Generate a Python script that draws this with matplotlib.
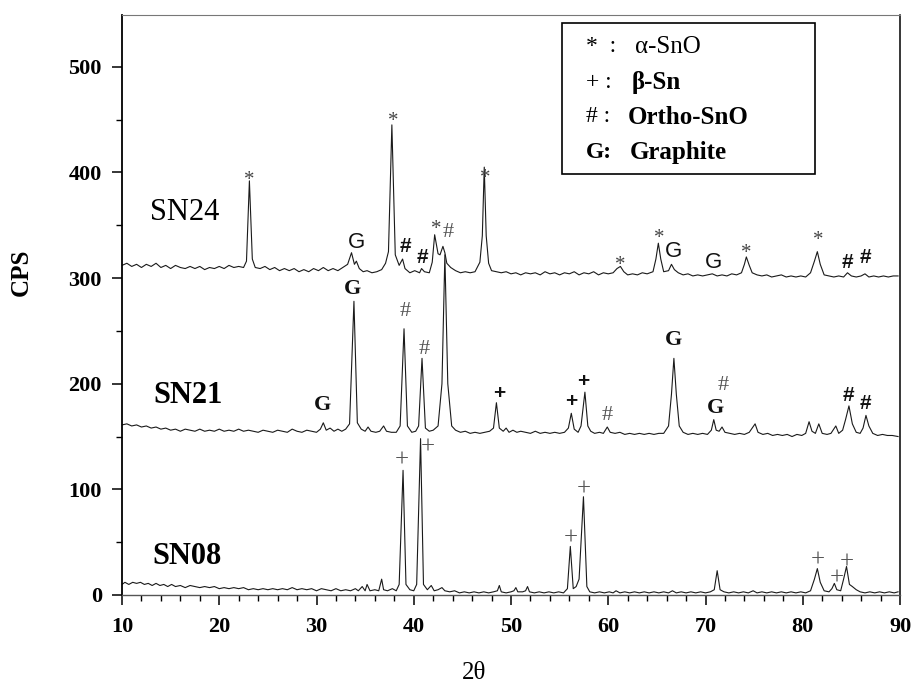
import matplotlib
matplotlib.use("Agg")
import matplotlib.pyplot as plt
from matplotlib.patches import Rectangle
from matplotlib.ticker import MultipleLocator

# ---------------- data ----------------
sn24_x = [10.0, 10.5, 11.0, 11.5, 12.0, 12.5, 13.0, 13.5, 14.0, 14.5, 15.0, 15.5, 16.0, 16.5, 17.0, 17.5,
          18.0, 18.5, 19.0, 19.5, 20.0, 20.5, 21.0, 21.5, 22.0, 22.5, 22.8, 23.1, 23.4, 23.7, 24.2, 24.7,
          25.2, 25.7, 26.2, 26.7, 27.2, 27.7, 28.2, 28.7, 29.2, 29.7, 30.2, 30.7, 31.2, 31.7, 32.2, 32.7,
          33.2, 33.6, 33.9, 34.1, 34.4, 34.8, 35.2, 35.7, 36.2, 36.7, 37.1, 37.4, 37.75, 38.1, 38.5, 38.85,
          39.1, 39.6, 40.1, 40.6, 40.8, 41.1, 41.6, 41.9, 42.15, 42.5, 42.7, 43.0, 43.2, 43.4, 43.8, 44.3,
          44.8, 45.3, 45.8, 46.3, 46.8, 47.05, 47.25, 47.45, 47.7, 48.0, 48.5, 49.0, 49.5, 50.0, 50.5, 51.0,
          51.5, 52.0, 52.5, 53.0, 53.5, 54.0, 54.5, 55.0, 55.5, 56.0, 56.5, 57.0, 57.5, 58.0, 58.5, 59.0,
          59.5, 60.0, 60.5, 60.9, 61.25, 61.6, 62.0, 62.5, 63.0, 63.5, 64.0, 64.6, 64.9, 65.15, 65.4, 65.7,
          66.2, 66.5, 66.8, 67.2, 67.7, 68.2, 68.7, 69.2, 69.7, 70.2, 70.7, 71.2, 71.7, 72.2, 72.7, 73.2,
          73.7, 74.0, 74.2, 74.5, 74.8, 75.3, 75.8, 76.3, 76.8, 77.3, 77.8, 78.3, 78.8, 79.3, 79.8, 80.3,
          80.8, 81.2, 81.5, 81.8, 82.2, 82.7, 83.2, 83.7, 84.2, 84.6, 85.0, 85.5, 86.0, 86.4, 86.8, 87.3,
          87.8, 88.3, 88.8, 89.3, 89.8]
sn24_y = [312, 314, 311, 313, 310, 313, 311, 314, 310, 312, 309, 312, 310, 309, 311, 309,
          311, 308, 310, 309, 311, 309, 312, 310, 311, 310, 316, 392, 318, 310, 309, 311,
          308, 310, 307, 309, 307, 309, 306, 308, 306, 309, 307, 310, 307, 309, 307, 310,
          313, 324, 313, 316, 309, 306, 307, 305, 306, 308, 314, 325, 445, 322, 312, 318,
          309, 305, 307, 305, 309, 306, 305, 315, 341, 323, 322, 330, 324, 314, 310, 307,
          305, 306, 305, 306, 315, 340, 405, 340, 314, 307, 306, 305, 306, 304, 305, 303,
          305, 304, 305, 303, 306, 304, 305, 303, 305, 304, 306, 303, 305, 304, 306, 303,
          305, 304, 305, 309, 311, 306, 303, 304, 303, 305, 304, 306, 318, 333, 318, 306,
          307, 313, 308, 305, 303, 304, 302, 303, 302, 303, 304, 302, 303, 302, 304, 303,
          305, 313, 320, 312, 305, 303, 302, 303, 301, 302, 303, 301, 302, 301, 302, 301,
          305, 316, 325, 313, 303, 302, 301, 302, 301, 305, 302, 301, 302, 304, 301, 302,
          301, 302, 301, 302, 302]

sn21_x = [10.0, 10.5, 11.0, 11.5, 12.0, 12.5, 13.0, 13.5, 14.0, 14.5, 15.0, 15.5, 16.0, 16.5, 17.0, 17.5,
          18.0, 18.5, 19.0, 19.5, 20.0, 20.5, 21.0, 21.5, 22.0, 22.5, 23.0, 23.5, 24.0, 24.5, 25.0, 25.5,
          26.0, 26.5, 27.0, 27.5, 28.0, 28.5, 29.0, 29.5, 30.0, 30.4, 30.7, 31.0, 31.4, 31.8, 32.2, 32.6,
          33.0, 33.4, 33.85, 34.2, 34.6, 35.0, 35.3, 35.6, 36.1, 36.5, 36.9, 37.2, 37.7, 38.2, 38.6, 39.0,
          39.35, 39.8, 40.2, 40.5, 40.85, 41.2, 41.6, 42.0, 42.5, 42.9, 43.2, 43.5, 43.9, 44.3, 44.8, 45.3,
          45.8, 46.3, 46.8, 47.3, 47.8, 48.2, 48.5, 48.8, 49.2, 49.5, 49.8, 50.2, 50.6, 51.0, 51.5, 52.0,
          52.5, 53.0, 53.5, 54.0, 54.5, 55.0, 55.5, 55.9, 56.2, 56.5, 56.9, 57.2, 57.6, 57.9, 58.2, 58.6,
          59.1, 59.5, 59.9, 60.2, 60.7, 61.2, 61.7, 62.2, 62.7, 63.2, 63.7, 64.2, 64.7, 65.2, 65.7, 66.2,
          66.5, 66.75, 67.0, 67.3, 67.7, 68.2, 68.7, 69.2, 69.7, 70.2, 70.6, 70.85, 71.1, 71.4, 71.7, 72.0,
          72.5, 73.0, 73.5, 74.0, 74.5, 74.8, 75.1, 75.4, 75.9, 76.4, 76.9, 77.4, 77.9, 78.4, 78.9, 79.4,
          79.9, 80.3, 80.65, 80.95, 81.3, 81.65, 82.0, 82.5, 82.9, 83.4, 83.7, 84.1, 84.4, 84.75, 85.1, 85.5,
          85.9, 86.2, 86.5, 86.8, 87.2, 87.7, 88.2, 88.7, 89.2, 89.8]
sn21_y = [161, 162, 160, 161, 159, 160, 158, 159, 157, 158, 156, 157, 155, 157, 156, 155,
          157, 155, 156, 155, 157, 155, 156, 155, 157, 155, 156, 155, 154, 156, 155, 154,
          156, 155, 154, 157, 155, 154, 156, 155, 154, 157, 163, 156, 158, 155, 157, 155,
          157, 162, 278, 163, 157, 155, 159, 155, 154, 155, 160, 155, 154, 154, 160, 252,
          160, 154, 155, 160, 224, 158, 155, 156, 160, 200, 322, 200, 160, 156, 154, 155,
          153, 154, 153, 154, 155, 158, 182, 158, 155, 158, 154, 156, 154, 155, 154, 153,
          155, 153, 154, 153, 154, 153, 154, 158, 172, 157, 154, 160, 192, 160, 155, 153,
          154, 153, 159, 154, 153, 154, 152, 153, 152, 153, 152, 153, 152, 153, 153, 160,
          190, 224, 190, 160, 154, 152, 153, 152, 153, 152, 156, 166, 156, 155, 159, 154,
          153, 152, 153, 152, 154, 158, 162, 154, 152, 153, 151, 152, 151, 152, 150, 152,
          151, 153, 164, 155, 153, 162, 153, 152, 153, 160, 153, 156, 166, 179, 162, 154,
          153, 158, 170, 160, 153, 151, 152, 151, 151, 150]

sn08_x = [10.0, 10.3, 10.7, 11.1, 11.5, 11.9, 12.3, 12.7, 13.1, 13.5, 13.9, 14.3, 14.7, 15.1, 15.5, 16.0,
          16.5, 17.0, 17.5, 18.0, 18.5, 19.0, 19.5, 20.0, 20.5, 21.0, 21.5, 22.0, 22.5, 23.0, 23.5, 24.0,
          24.5, 25.0, 25.5, 26.0, 26.5, 27.0, 27.5, 28.0, 28.5, 29.0, 29.5, 30.0, 30.5, 31.0, 31.5, 32.0,
          32.5, 33.0, 33.5, 34.0, 34.3, 34.7, 35.0, 35.2, 35.5, 36.0, 36.4, 36.7, 36.9, 37.3, 37.8, 38.2,
          38.5, 38.9, 39.2, 39.6, 40.0, 40.3, 40.7, 41.0, 41.4, 41.8, 42.1, 42.5, 42.9, 43.2, 43.7, 44.2,
          44.7, 45.2, 45.7, 46.2, 46.7, 47.2, 47.7, 48.2, 48.6, 48.8, 49.0, 49.5, 50.0, 50.3, 50.5, 50.7,
          51.2, 51.5, 51.7, 51.9, 52.4, 52.9, 53.4, 53.9, 54.4, 54.9, 55.4, 55.8, 56.1, 56.4, 56.7, 57.0,
          57.45, 57.8, 58.1, 58.6, 59.1, 59.6, 60.1, 60.5, 60.8, 61.2, 61.7, 62.2, 62.7, 63.2, 63.7, 64.2,
          64.7, 65.2, 65.7, 66.2, 66.6, 67.0, 67.5, 68.0, 68.5, 69.0, 69.5, 70.0, 70.5, 70.9, 71.2, 71.5,
          71.9, 72.4, 72.9, 73.4, 73.9, 74.4, 74.9, 75.3, 75.8, 76.3, 76.8, 77.3, 77.8, 78.3, 78.8, 79.3,
          79.8, 80.3, 80.8, 81.2, 81.5, 81.8, 82.2, 82.7, 83.0, 83.25, 83.5, 83.9, 84.2, 84.5, 84.8, 85.1,
          85.5, 85.9, 86.4, 86.9, 87.4, 87.9, 88.4, 88.9, 89.4, 89.8]
sn08_y = [10, 12, 10, 12, 11, 12, 10, 11, 9, 11, 9, 10, 8, 10, 8, 9,
          7, 9, 8, 7, 8, 7, 8, 6, 7, 6, 7, 6, 7, 5, 6, 5,
          6, 5, 6, 5, 6, 5, 7, 5, 6, 5, 6, 4, 6, 5, 4, 6,
          4, 5, 4, 6, 4, 8, 4, 10, 4, 5, 4, 15, 5, 4, 6, 4,
          10, 118, 10, 5, 4, 10, 148, 10, 5, 9, 4, 5, 7, 4, 3, 4,
          2, 3, 2, 3, 2, 3, 2, 3, 4, 9, 3, 2, 3, 4, 7, 3,
          3, 4, 8, 3, 2, 3, 2, 3, 2, 3, 2, 6, 46, 6, 8, 15,
          93, 8, 3, 2, 3, 2, 3, 2, 4, 2, 3, 2, 3, 2, 3, 2,
          3, 2, 3, 2, 4, 2, 3, 2, 3, 2, 3, 2, 3, 5, 23, 5,
          3, 2, 3, 2, 3, 2, 4, 2, 3, 2, 3, 2, 3, 2, 3, 2,
          3, 2, 4, 15, 25, 12, 4, 3, 6, 11, 5, 4, 15, 27, 10, 8,
          5, 3, 2, 3, 2, 3, 2, 3, 2, 3]

sample_names = ["SN24", "SN21", "SN08"]
x_ticks = [10, 20, 30, 40, 50, 60, 70, 80, 90]
y_ticks = [0, 100, 200, 300, 400, 500]

# peak markers: (2theta, CPS, label, style)
ann_sn24 = [(23.06, 400, "*", "ast"), (34.16, 334, "G", "Gsans"), (37.87, 456, "*", "ast"),
            (39.1, 330, "#", "hbold"), (40.92, 319, "#", "hbold"), (42.29, 354, "*", "ast"),
            (43.5, 343, "#", "hthin"), (47.33, 402, "*", "ast"), (61.28, 320, "*", "ast"),
            (65.25, 345, "*", "ast"), (66.7, 325, "G", "Gsans"), (70.8, 315, "G", "Gsans"),
            (74.16, 331, "*", "ast"), (81.6, 344, "*", "ast"), (84.6, 315, "#", "hbold"),
            (86.47, 319, "#", "hbold")]
ann_sn21 = [(30.57, 180, "G", "Gserif"), (33.75, 290, "G", "Gserif"), (39.1, 268, "#", "hthin"),
            (41.05, 232, "#", "hthin"), (48.77, 191, "+", "pbold"), (56.17, 183, "+", "pbold"),
            (57.44, 202, "+", "pbold"), (59.9, 170, "#", "hthin"), (66.69, 241, "G", "Gserif"),
            (71.83, 198, "#", "hthin"), (71.0, 177, "G", "Gserif"), (84.7, 189, "#", "hbold"),
            (86.4, 181, "#", "hbold")]
ann_sn08 = [(38.76, 127, "+", "pthin"), (41.43, 140, "+", "pthin"), (56.13, 53, "+", "pthin"),
            (57.44, 100, "+", "pthin"), (81.53, 33, "+", "pthin"), (83.48, 16, "+", "pthin"),
            (84.5, 31, "+", "pthin")]

legend_symbols = ["*  :", "+ :", "# :", "G:"]
legend_names = ["\u03b1-SnO", "\u03b2-Sn", "Ortho-SnO", "Graphite"]

# ---------------- figure ----------------
SERIF = ["Liberation Serif", "DejaVu Serif"]
SANS = ["Liberation Sans", "DejaVu Sans"]

fig = plt.figure(figsize=(9.13, 6.88), dpi=100)
W, H = 913, 688
ax = fig.add_axes([122 / W, 1 - 595 / H, (900 - 122) / W, (595 - 15) / H])

for xs, ys in [(sn24_x, sn24_y), (sn21_x, sn21_y), (sn08_x, sn08_y)]:
    ax.plot(xs, ys, color="#1a1a1a", lw=0.8)

ax.set_xlim(10, 90)
ax.set_ylim(0, 549)
ax.set_xticks(x_ticks)
ax.set_yticks(y_ticks)
ax.xaxis.set_minor_locator(MultipleLocator(2))
ax.yaxis.set_minor_locator(MultipleLocator(50))
ax.tick_params(which="major", direction="out", length=7.5, width=1.1, pad=8)
ax.tick_params(which="minor", direction="out", length=4, width=1.0)
ax.tick_params(axis="y", which="major", pad=7)
for lab in ax.get_xticklabels() + ax.get_yticklabels():
    lab.set_family(SERIF)
    lab.set_fontweight("bold")
    lab.set_fontsize(16)

ax.spines["left"].set_linewidth(1.3)
ax.spines["bottom"].set_linewidth(1.0)
ax.spines["bottom"].set_color("#555555")
ax.spines["top"].set_linewidth(0.8)
ax.spines["top"].set_color("#777777")
ax.spines["right"].set_linewidth(1.1)

# sample labels
ax.text(12.88, 362, sample_names[0], family=SERIF, fontsize=22, va="center", ha="left")
ax.text(13.19, 189, sample_names[1], family=SERIF, fontsize=22, weight="bold", va="center", ha="left")
ax.text(13.08, 36, sample_names[2], family=SERIF, fontsize=22, weight="bold", va="center", ha="left")

styles = {
    "ast": dict(family=SERIF, fontsize=15, color="#444444", dy=-8),
    "Gsans": dict(family=SANS, fontsize=16, color="#111111", dy=0),
    "Gserif": dict(family=SERIF, fontsize=16, weight="bold", color="#111111", dy=0),
    "hbold": dict(family=SANS, fontsize=15, weight="bold", color="#111111", dy=0),
    "hthin": dict(family=SERIF, fontsize=16, color="#555555", dy=0),
    "pbold": dict(family=SANS, fontsize=15, weight="bold", color="#111111", dy=0),
    "pthin": dict(family=SERIF, fontsize=18, color="#555555", dy=0),
}
for ann in (ann_sn24, ann_sn21, ann_sn08):
    for x, y, lab, st in ann:
        s = dict(styles[st])
        dy = s.pop("dy")
        ax.text(x, y + dy, lab, ha="center", va="center", **s)

# legend box
ax.add_patch(Rectangle((0.5656, 0.7259), 0.8907 - 0.5656, 0.986 - 0.7259, transform=ax.transAxes,
                       fill=True, facecolor="white", edgecolor="black", lw=1.2, zorder=5))
leg_py = [47, 82, 117, 152]
name_w = ["normal", "bold", "bold", "bold"]
sym_w = ["normal", "normal", "normal", "bold"]
name_px = [635, 632, 628, 630]
for i in range(4):
    fig.text(586 / W, 1 - leg_py[i] / H, legend_symbols[i], family=SERIF, fontsize=17,
             weight=sym_w[i], va="center", ha="left", zorder=6)
    fig.text(name_px[i] / W, 1 - leg_py[i] / H, legend_names[i], family=SERIF, fontsize=18,
             weight=name_w[i], va="center", ha="left", zorder=6)

# axis labels
fig.text(21 / W, 1 - 272 / H, "CPS", family=SERIF, fontsize=18, weight="bold",
         rotation=90, va="center", ha="center")
fig.text(474 / W, 1 - 673 / H, "2\u03b8", family=SERIF, fontsize=18,
         va="center", ha="center")

fig.savefig("out.png", dpi=100)
